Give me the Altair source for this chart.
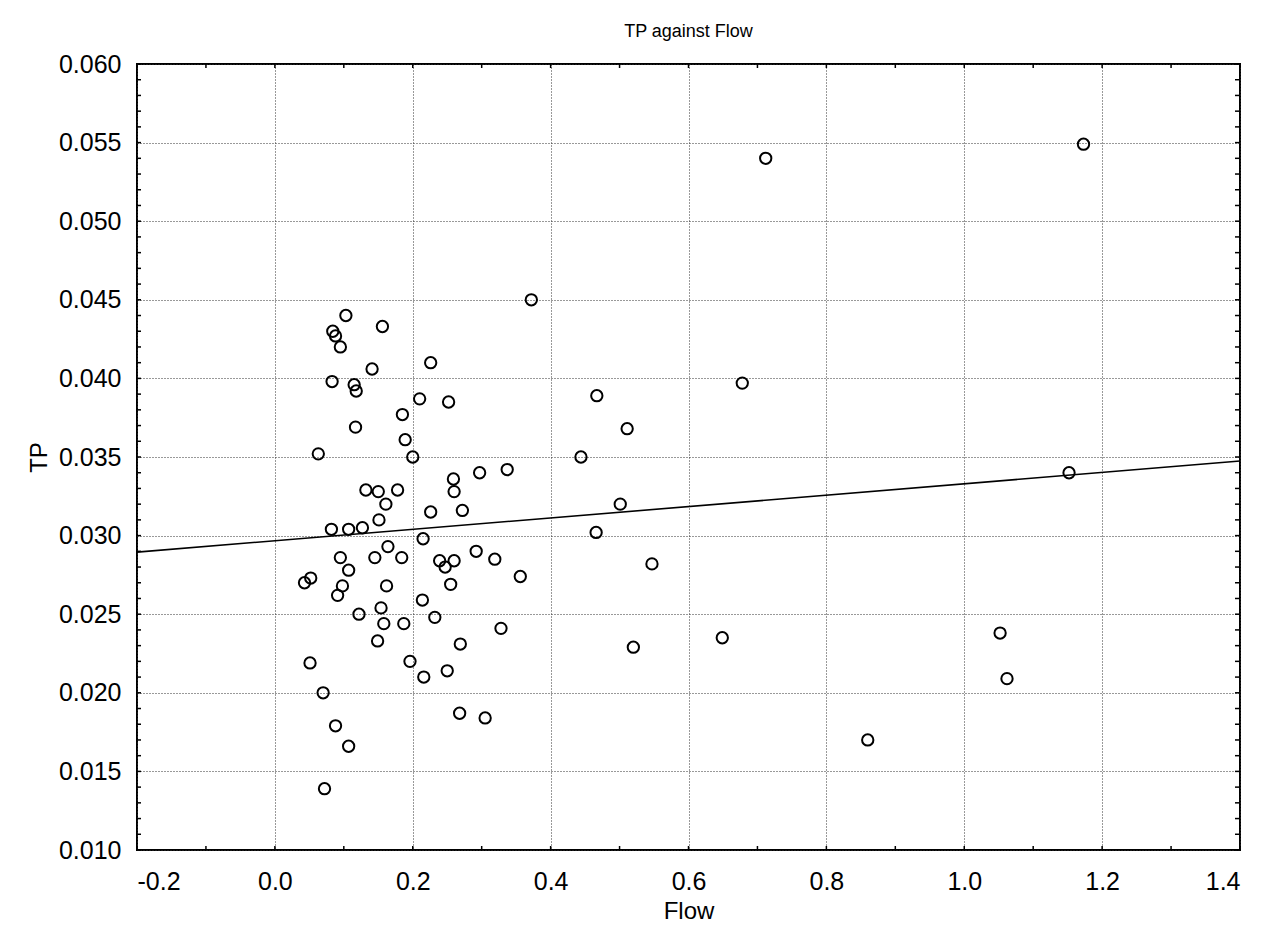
import altair as alt
import pandas as pd

# ---- data ----
flow = [
    0.103, 0.084, 0.088, 0.095, 0.156, 0.141, 0.226, 0.083, 0.115, 0.118,
    0.210, 0.252, 0.185, 0.117, 0.189, 0.063, 0.200, 0.372, 0.259, 0.297,
    0.337, 0.260, 0.132, 0.150, 0.178, 0.161, 0.226, 0.272, 0.151, 0.082,
    0.107, 0.127, 0.215, 0.164, 0.095, 0.145, 0.184, 0.107, 0.052, 0.043,
    0.098, 0.091, 0.162, 0.239, 0.247, 0.260, 0.292, 0.319, 0.255, 0.214,
    0.154, 0.122, 0.232, 0.158, 0.187, 0.328, 0.149, 0.269, 0.051, 0.196,
    0.216, 0.250, 0.070, 0.268, 0.305, 0.088, 0.107, 0.072, 0.356,
    0.467, 0.678, 0.511, 0.444, 0.501, 0.466, 0.547, 0.520, 0.649, 0.712,
    1.173, 1.152, 1.052, 1.062, 0.860,
]
tp = [
    0.0440, 0.0430, 0.0427, 0.0420, 0.0433, 0.0406, 0.0410, 0.0398, 0.0396, 0.0392,
    0.0387, 0.0385, 0.0377, 0.0369, 0.0361, 0.0352, 0.0350, 0.0450, 0.0336, 0.0340,
    0.0342, 0.0328, 0.0329, 0.0328, 0.0329, 0.0320, 0.0315, 0.0316, 0.0310, 0.0304,
    0.0304, 0.0305, 0.0298, 0.0293, 0.0286, 0.0286, 0.0286, 0.0278, 0.0273, 0.0270,
    0.0268, 0.0262, 0.0268, 0.0284, 0.0280, 0.0284, 0.0290, 0.0285, 0.0269, 0.0259,
    0.0254, 0.0250, 0.0248, 0.0244, 0.0244, 0.0241, 0.0233, 0.0231, 0.0219, 0.0220,
    0.0210, 0.0214, 0.0200, 0.0187, 0.0184, 0.0179, 0.0166, 0.0139, 0.0274,
    0.0389, 0.0397, 0.0368, 0.0350, 0.0320, 0.0302, 0.0282, 0.0229, 0.0235, 0.0540,
    0.0549, 0.0340, 0.0238, 0.0209, 0.0170,
]

x_major = [-0.2, 0.0, 0.2, 0.4, 0.6, 0.8, 1.0, 1.2, 1.4]
y_major = [0.010, 0.015, 0.020, 0.025, 0.030, 0.035, 0.040, 0.045, 0.050, 0.055, 0.060]
x_minor = [round(-0.2 + 0.1 * i, 1) for i in range(17)]
y_minor = [round(0.010 + 0.001 * i, 3) for i in range(51)]

W, H = 1103, 786
FONT = "Liberation Sans"

df = pd.DataFrame({"Flow": flow, "TP": tp})
xs = alt.Scale(domain=[-0.2, 1.4], nice=False, zero=False)
ys = alt.Scale(domain=[0.010, 0.060], nice=False, zero=False)

grid_style = dict(grid=True, gridColor="#333333", gridDash=[1, 2], gridWidth=1,
                  ticks=False, domain=False, labelFont=FONT, labelFontSize=25,
                  labelColor="black", titleFont=FONT, titleFontSize=24,
                  titleFontWeight="normal", titleColor="black")

x_axis = alt.Axis(values=x_major, title="Flow", labelPadding=19, titlePadding=5,
                  labelExpr="replace(format(datum.value, '.1f'), '\u2212', '-')",
                  **grid_style)
y_axis = alt.Axis(values=y_major, title="TP", labelPadding=16, titlePadding=7,
                  labelExpr="replace(format(datum.value, '.3f'), '\u2212', '-')",
                  **grid_style)

points = alt.Chart(df).mark_point(
    shape="circle", filled=False, color="black", size=128, strokeWidth=2, opacity=1
).encode(
    x=alt.X("Flow:Q", scale=xs, axis=x_axis),
    y=alt.Y("TP:Q", scale=ys, axis=y_axis),
)

fit = alt.Chart(df).transform_regression(
    "Flow", "TP", extent=[-0.2, 1.4]
).mark_line(color="black", strokeWidth=1.6).encode(
    x=alt.X("Flow:Q", scale=xs, axis=x_axis),
    y=alt.Y("TP:Q", scale=ys, axis=y_axis),
)

xt = pd.DataFrame({"Flow": x_minor})
yt = pd.DataFrame({"TP": y_minor})
tick_kw = dict(color="black", strokeWidth=1.5)
bottom_ticks = alt.Chart(xt).mark_rule(**tick_kw).encode(
    x=alt.X("Flow:Q", scale=xs, axis=x_axis), y=alt.value(H), y2=alt.value(H - 4))
top_ticks = alt.Chart(xt).mark_rule(**tick_kw).encode(
    x=alt.X("Flow:Q", scale=xs, axis=x_axis), y=alt.value(0), y2=alt.value(4))
left_ticks = alt.Chart(yt).mark_rule(**tick_kw).encode(
    y=alt.Y("TP:Q", scale=ys, axis=y_axis), x=alt.value(0), x2=alt.value(4))
right_ticks = alt.Chart(yt).mark_rule(**tick_kw).encode(
    y=alt.Y("TP:Q", scale=ys, axis=y_axis), x=alt.value(W), x2=alt.value(W - 5))

chart = alt.layer(
    points, fit, bottom_ticks, top_ticks, left_ticks, right_ticks
).properties(
    width=W, height=H,
    title=alt.TitleParams("TP against Flow", font=FONT, fontSize=18,
                          fontWeight="normal", color="black", anchor="middle",
                          offset=11),
    autosize=alt.AutoSizeParams(type="none"),
    padding={"left": 137, "top": 64, "right": 23, "bottom": 87},
    background="white",
).configure_view(
    stroke="black", strokeWidth=2
)

chart.save("out.html", embed_options={"renderer": "svg", "actions": False})
